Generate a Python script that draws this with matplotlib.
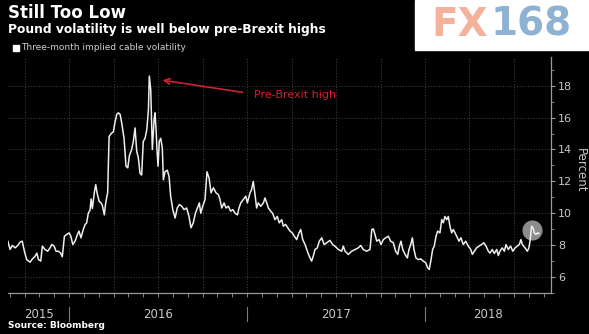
import matplotlib.pyplot as plt
import matplotlib.transforms as mtransforms
from matplotlib.patches import Rectangle
import numpy as np

# three-month implied GBP/USD volatility, x in decimal years
years = [
    2015.656, 2015.669, 2015.681, 2015.697, 2015.712, 2015.725, 2015.737, 2015.749,
    2015.762, 2015.781, 2015.794, 2015.809, 2015.819, 2015.828, 2015.841, 2015.850,
    2015.865, 2015.880, 2015.893, 2015.903, 2015.916, 2015.927, 2015.940, 2015.953,
    2015.962, 2015.974, 2015.987, 2016.000, 2016.010, 2016.021, 2016.034, 2016.047,
    2016.056, 2016.067, 2016.080, 2016.090, 2016.099, 2016.108, 2016.118, 2016.124,
    2016.131, 2016.142, 2016.150, 2016.157, 2016.169, 2016.180, 2016.187, 2016.198,
    2016.206, 2016.217, 2016.225, 2016.236, 2016.249, 2016.258, 2016.268, 2016.277,
    2016.287, 2016.296, 2016.309, 2016.320, 2016.330, 2016.339, 2016.352, 2016.361,
    2016.371, 2016.380, 2016.389, 2016.399, 2016.408, 2016.417, 2016.427, 2016.437,
    2016.446, 2016.451, 2016.459, 2016.468, 2016.478, 2016.483, 2016.489, 2016.494,
    2016.500, 2016.507, 2016.515, 2016.524, 2016.530, 2016.539, 2016.552, 2016.562,
    2016.571, 2016.583, 2016.596, 2016.608, 2016.620, 2016.633, 2016.646, 2016.661,
    2016.674, 2016.685, 2016.698, 2016.710, 2016.721, 2016.732, 2016.740, 2016.751,
    2016.764, 2016.775, 2016.787, 2016.798, 2016.811, 2016.826, 2016.839, 2016.848,
    2016.858, 2016.871, 2016.882, 2016.895, 2016.908, 2016.920, 2016.933, 2016.946,
    2016.955, 2016.965, 2016.979, 2016.993, 2017.002, 2017.017, 2017.026, 2017.035,
    2017.045, 2017.054, 2017.063, 2017.077, 2017.092, 2017.101, 2017.111, 2017.120,
    2017.133, 2017.144, 2017.157, 2017.170, 2017.181, 2017.195, 2017.204, 2017.217,
    2017.229, 2017.242, 2017.254, 2017.266, 2017.279, 2017.292, 2017.302, 2017.313,
    2017.326, 2017.339, 2017.350, 2017.363, 2017.372, 2017.382, 2017.395, 2017.406,
    2017.420, 2017.433, 2017.448, 2017.466, 2017.481, 2017.494, 2017.513, 2017.532,
    2017.541, 2017.551, 2017.569, 2017.588, 2017.607, 2017.625, 2017.639, 2017.653,
    2017.672, 2017.691, 2017.701, 2017.710, 2017.719, 2017.729, 2017.742, 2017.753,
    2017.766, 2017.779, 2017.794, 2017.807, 2017.822, 2017.835, 2017.847, 2017.856,
    2017.865, 2017.875, 2017.888, 2017.901, 2017.910, 2017.920, 2017.929, 2017.938,
    2017.949, 2017.962, 2017.976, 2017.990, 2018.004, 2018.015, 2018.024, 2018.034,
    2018.043, 2018.052, 2018.062, 2018.071, 2018.084, 2018.094, 2018.103, 2018.112,
    2018.122, 2018.131, 2018.140, 2018.150, 2018.159, 2018.169, 2018.178, 2018.191,
    2018.202, 2018.215, 2018.229, 2018.243, 2018.257, 2018.266, 2018.277, 2018.290,
    2018.303, 2018.318, 2018.331, 2018.343, 2018.356, 2018.365, 2018.378, 2018.389,
    2018.403, 2018.412, 2018.421, 2018.434, 2018.446, 2018.455, 2018.468, 2018.481,
    2018.493, 2018.506, 2018.519, 2018.530, 2018.539, 2018.547, 2018.562, 2018.575,
    2018.584, 2018.590, 2018.599, 2018.607, 2018.614, 2018.624, 2018.633, 2018.640,
]
vol = [
    8.25, 7.73, 7.98, 7.83, 7.98, 8.19, 8.25, 7.62,
    7.10, 6.93, 7.14, 7.30, 7.50, 7.10, 7.00, 7.94,
    7.73, 7.62, 7.83, 8.04, 7.94, 7.62, 7.62, 7.50,
    7.27, 8.56, 8.67, 8.77, 8.56, 8.04, 8.25, 8.67,
    8.88, 8.46, 8.98, 9.29, 9.40, 10.0, 10.2, 10.9,
    10.3, 11.3, 11.8, 11.3, 10.75, 10.65, 10.5, 9.9,
    10.65, 11.3, 14.8, 15.0, 15.1, 15.7, 16.2, 16.3,
    16.2, 15.66, 14.7, 12.95, 12.85, 13.6, 14.0, 14.5,
    15.35, 13.9, 13.5, 12.5, 12.4, 14.5, 14.7, 15.25,
    16.5, 18.6, 17.75, 14.0, 15.9, 16.3, 15.25, 14.0,
    12.95, 14.5, 14.7, 14.1, 12.1, 12.6, 12.7, 12.3,
    11.07, 10.23, 9.7, 10.33, 10.55, 10.44, 10.23, 10.33,
    9.8, 9.09, 9.4, 10.0, 10.33, 10.65, 10.0, 10.44,
    10.86, 12.6, 12.2, 11.28, 11.6, 11.28, 11.17, 10.86,
    10.33, 10.65, 10.33, 10.44, 10.13, 10.23, 10.0, 9.9,
    10.33, 10.65, 10.86, 11.07, 10.65, 11.28, 11.5, 12.0,
    11.17, 10.33, 10.65, 10.44, 10.65, 10.96, 10.65, 10.33,
    10.13, 10.0, 9.6, 9.8, 9.4, 9.6, 9.19, 9.3,
    9.09, 8.88, 8.77, 8.56, 8.35, 8.77, 8.98, 8.35,
    8.04, 7.62, 7.3, 7.0, 7.3, 7.73, 7.83, 8.25,
    8.46, 8.04, 8.15, 8.3, 8.04, 7.94, 7.73, 7.62,
    7.94, 7.62, 7.42, 7.62, 7.73, 7.83, 7.98, 7.73,
    7.62, 7.73, 8.98, 9.02, 8.67, 8.25, 8.35, 8.04,
    8.35, 8.46, 8.56, 8.25, 8.15, 7.62, 7.42, 7.94,
    8.25, 7.73, 7.42, 7.2, 7.73, 8.04, 8.46, 7.73,
    7.2, 7.1, 7.14, 7.0, 6.9, 6.58, 6.48, 7.1,
    7.73, 7.94, 8.56, 8.88, 8.77, 9.6, 9.4, 9.8,
    9.6, 9.8, 9.19, 8.77, 8.98, 8.77, 8.56, 8.25,
    8.46, 8.04, 8.25, 7.94, 7.73, 7.42, 7.62, 7.83,
    7.94, 8.04, 8.15, 7.94, 7.62, 7.5, 7.73, 7.48,
    7.73, 7.35, 7.62, 7.83, 7.62, 8.04, 7.73, 7.94,
    7.62, 7.83, 7.94, 8.04, 8.35, 8.04, 7.83, 7.62,
    7.83, 8.25, 9.19, 9.09, 8.77, 8.67, 8.77, 8.73,
]
year_labels = ['2015', '2016', '2017', '2018']
y_ticks = [6, 8, 10, 12, 14, 16, 18]

W, H = 589, 334
fig = plt.figure(figsize=(W / 100, H / 100), dpi=100)
fig.patch.set_facecolor('black')
ax = fig.add_axes([8 / W, 1 - 293 / H, 543 / W, 236 / H])
ax.set_facecolor('black')

ax.plot(years, vol, color='#eeeeee', lw=1.1, zorder=3)
# grey highlight circle on the latest reading
ax.scatter([2018.601], [8.95], s=210, color='#8c8c8c', zorder=2, lw=0)

xmin, xmax = 2015.657, 2018.708
ax.set_xlim(xmin, xmax)
ax.set_ylim(5, 19.8)

for s in ['top', 'left']:
    ax.spines[s].set_visible(False)
for s in ['right', 'bottom']:
    ax.spines[s].set_color('#9a9a9a')
    ax.spines[s].set_linewidth(0.9)

# y axis on the right
ax.yaxis.tick_right()
ax.set_yticks(y_ticks)
ax.set_yticks(np.arange(5, 20), minor=True)
ax.tick_params(axis='y', which='major', length=3, color='#9a9a9a',
               labelcolor='#c8c8c8', labelsize=8, pad=2)
ax.tick_params(axis='y', which='minor', length=2, color='#9a9a9a')

# x: quarterly grid, monthly ticks
quarters = np.arange(2015.75, 2018.71, 0.25)
months = np.arange(2015 + 8 / 12, 2018.71, 1 / 12)
ax.set_xticks(quarters)
ax.set_xticks(months, minor=True)
ax.xaxis.remove_overlapping_locs = False
ax.tick_params(axis='x', which='major', length=0, labelbottom=False)
ax.tick_params(axis='x', which='minor', length=3, color='#9a9a9a')
ax.grid(True, which='major', color='#3a3a3a', linestyle=(0, (1, 1.5)), lw=0.8)

trans = mtransforms.blended_transform_factory(ax.transData, ax.transAxes)
for yr in [2016, 2017, 2018]:
    ax.plot([yr, yr], [-0.06, -0.12], transform=trans, clip_on=False,
            color='#7a7a7a', lw=0.8)
label_pos = [(xmin + 2016) / 2, 2016.5, 2017.5, (2018 + xmax) / 2]
for lab, xp in zip(year_labels, label_pos):
    ax.text(xp, -0.09, lab, transform=trans, ha='center', va='center',
            color='#c8c8c8', fontsize=8.5)

# annotation
ax.annotate('', xy=(2016.51, 18.37), xytext=(2016.99, 17.56),
            arrowprops=dict(arrowstyle='->', color='#cc2233', lw=1.2))
ax.text(2017.04, 17.44, 'Pre-Brexit high', color='#cc2233', fontsize=8,
        va='center', ha='left')

# titles
fig.text(8 / W, 1 - 13 / H, 'Still Too Low', color='white', fontsize=12,
         fontweight='bold', va='center', ha='left')
fig.text(8 / W, 1 - 30 / H, 'Pound volatility is well below pre-Brexit highs',
         color='white', fontsize=8.8, fontweight='bold', va='center', ha='left')
fig.patches.append(Rectangle((13 / W, 1 - 51 / H), 6 / W, 6 / H, color='white',
                             transform=fig.transFigure, figure=fig))
fig.text(21 / W, 1 - 48 / H, 'Three-month implied cable volatility',
         color='#d0d0d0', fontsize=6.5, va='center', ha='left')
fig.text(580 / W, 1 - 170 / H, 'Percent', color='#c8c8c8', fontsize=8.5,
         rotation=270, va='center', ha='center')
fig.text(8 / W, 1 - 326 / H, 'Source: Bloomberg', color='white', fontsize=6.5,
         fontweight='bold', va='center', ha='left')

# FX168 watermark box
fig.patches.append(Rectangle((415 / W, 1 - 50 / H), 174 / W, 50 / H, color='white',
                             transform=fig.transFigure, figure=fig))
fig.text(431 / W, 1 - 25 / H, 'FX', color='#f4b29c', fontsize=28,
         fontweight='bold', va='center', ha='left')
fig.text(491 / W, 1 - 25 / H, '168', color='#8fb2d2', fontsize=28,
         fontweight='bold', va='center', ha='left')

fig.savefig('out.png', dpi=100, facecolor='black')
